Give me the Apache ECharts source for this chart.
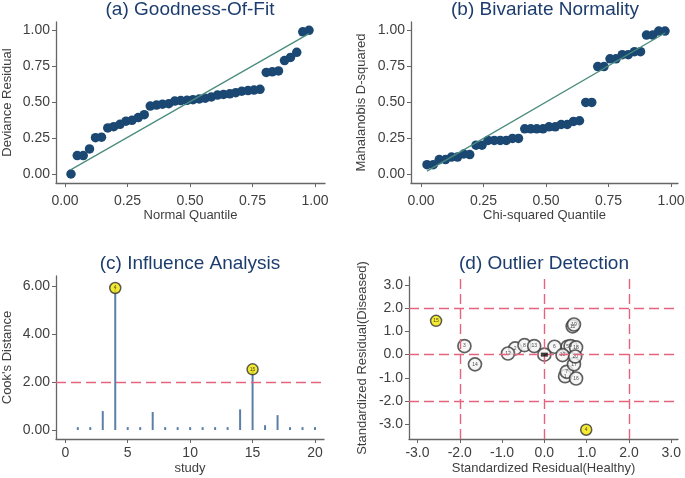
<!DOCTYPE html>
<html>
<head>
<meta charset="UTF-8">
<title>Diagnostics</title>
<script src="https://cdn.jsdelivr.net/npm/echarts@6/dist/echarts.min.js"></script>
<style>
  html, body { margin: 0; padding: 0; background: #fff; }
</style>
</head>
<body>
<div id="container" style="width:685px;height:478px;"></div>
<script type="text/javascript">

// quantile positions (same for panels a and b)
var quantiles = [0.024,0.049,0.073,0.098,0.122,0.146,0.171,0.195,0.220,0.244,
                 0.268,0.293,0.317,0.341,0.366,0.390,0.415,0.439,0.463,0.488,
                 0.512,0.537,0.561,0.585,0.610,0.634,0.659,0.683,0.707,0.732,
                 0.756,0.780,0.805,0.829,0.854,0.878,0.902,0.927,0.951,0.976];

// (a) deviance residuals
var devianceResid = [0.000,0.128,0.128,0.174,0.252,0.256,0.320,0.329,0.345,0.367,
                     0.373,0.392,0.412,0.472,0.479,0.485,0.488,0.507,0.510,0.512,
                     0.516,0.521,0.527,0.535,0.548,0.553,0.557,0.565,0.575,0.580,
                     0.583,0.588,0.706,0.710,0.716,0.788,0.810,0.845,0.988,0.998];
var fitA = [[0.024, 0.030], [0.976, 0.975]];

// (b) Mahalanobis D-squared
var mahalanobis = [0.065,0.065,0.100,0.100,0.118,0.118,0.139,0.135,0.200,0.200,
                   0.233,0.233,0.233,0.233,0.247,0.247,0.314,0.314,0.314,0.314,
                   0.328,0.328,0.344,0.344,0.365,0.370,0.497,0.497,0.746,0.746,
                   0.800,0.800,0.829,0.829,0.850,0.850,0.965,0.965,0.993,0.993];
var fitB = [[0.024, 0.020], [0.976, 0.980]];

// (c) Cook's distance per study
var studies = [1,2,3,4,5,6,7,8,9,10,11,12,13,14,15,16,17,18,19,20];
var cooks = [0.12,0.12,0.79,5.92,0.12,0.12,0.75,0.12,0.12,0.12,
             0.12,0.12,0.12,0.86,2.53,0.20,0.62,0.12,0.12,0.12];
var flagged = [4, 15];
var cooksCut = 2;

// (d) standardized residuals per study
var residHealthy  = [0.49,-0.69,-1.89,0.99,0.55,0.24,0.53,-0.47,0.62,0.43,
                     0.67,-0.86,-0.24,-1.64,-2.56,0.75,0.70,0.75,0.70,0.73];
var residDiseased = [-0.93,0.27,0.37,-3.24,0.34,0.34,-0.74,0.41,0.37,-0.02,
                     1.22,0.05,0.37,-0.42,1.46,-1.03,-0.42,0.31,1.30,-0.08];
var refPoint = [0, 0];
var outlierCuts = [-2, 0, 2];

var dom = document.getElementById("container");
var myChart = echarts.init(dom, null, { renderer: 'canvas' });

var FONT = 'Liberation Sans, Arial, sans-serif';
var TXT = '#3f3f3f';
var NAVY = '#1c3d6e';
var DOT = '#1b4873';
var FIT = '#4a8c7c';
var PINK = '#e6637f';

function mkX(idx, min, max, ticks, fmt, margin, name) {
    return {
        type: 'value', gridIndex: idx, min: min, max: max,
        splitLine: { show: false },
        axisLine: { onZero: false, lineStyle: { color: '#666', width: 1.3 } },
        axisTick: { length: 4, customValues: ticks, lineStyle: { color: '#666' } },
        axisLabel: { customValues: ticks, formatter: fmt, margin: margin,
                     color: TXT, fontSize: 14, fontFamily: FONT },
        name: name, nameLocation: 'middle', nameGap: 23,
        nameTextStyle: { color: TXT, fontSize: 13, fontFamily: FONT }
    };
}
function mkY(idx, min, max, ticks, fmt, gap, name) {
    return {
        type: 'value', gridIndex: idx, min: min, max: max,
        splitLine: { show: false },
        axisLine: { onZero: false, lineStyle: { color: '#666', width: 1.3 } },
        axisTick: { length: 4, customValues: ticks, lineStyle: { color: '#666' } },
        axisLabel: { customValues: ticks, formatter: fmt, margin: 6,
                     color: TXT, fontSize: 14, fontFamily: FONT },
        name: name, nameLocation: 'middle', nameGap: gap,
        nameTextStyle: { color: TXT, fontSize: 13, fontFamily: FONT }
    };
}
function f2(v) { return v.toFixed(2); }
function f1(v) { return v.toFixed(1); }
function f0(v) { return String(Math.round(v)); }

var unit = [0, 0.25, 0.5, 0.75, 1];

var seriesA = quantiles.map(function (q, i) { return [q, devianceResid[i]]; });
var seriesB = quantiles.map(function (q, i) { return [q, mahalanobis[i]]; });
var stems = studies.map(function (s, i) { return [s, cooks[i]]; });
var flaggedPts = flagged.map(function (s) { return { value: [s, cooks[s - 1]], name: String(s) }; });
var outPts = studies.map(function (s, i) {
    var isFlag = flagged.indexOf(s) >= 0;
    return {
        value: [residHealthy[i], residDiseased[i]], name: String(s),
        symbolSize: isFlag ? 11 : 13,
        itemStyle: isFlag ? { color: '#f2e600', borderColor: '#333', borderWidth: 1.5 }
                          : { color: '#f4f4f4', borderColor: '#3a3a3a', borderWidth: 1.7 }
    };
});

var tinyLabel = { show: true, position: 'inside', formatter: '{b}', fontSize: 5,
                  color: '#222', fontFamily: FONT };

function title(x, y, text) {
    return { type: 'text', x: x, y: y,
             style: { text: text, fill: NAVY, font: '19px ' + FONT, align: 'center', verticalAlign: 'middle' } };
}

var dash = [10, 5];

var option = {
    animation: false,
    backgroundColor: '#fff',
    graphic: [
        title(190, 10, '(a) Goodness-Of-Fit'),
        title(545, 10, '(b) Bivariate Normality'),
        title(190, 264, '(c) Influence Analysis'),
        title(544, 264, '(d) Outlier Detection')
    ],
    grid: [
        { left: 56, top: 22, width: 269, height: 161, outerBoundsMode: 'none' },
        { left: 411, top: 22, width: 267, height: 161, outerBoundsMode: 'none' },
        { left: 56, top: 276, width: 268, height: 163, outerBoundsMode: 'none' },
        { left: 409, top: 277, width: 269, height: 162, outerBoundsMode: 'none' }
    ],
    xAxis: [
        mkX(0, -0.036, 1.04, unit, f2, 11, 'Normal Quantile'),
        mkX(1, -0.04, 1.028, unit, f2, 11, 'Chi-squared Quantile'),
        mkX(2, -0.745, 20.72, [0, 5, 10, 15, 20], f0, 7, 'study'),
        mkX(3, -3.2, 3.16, [-3, -2, -1, 0, 1, 2, 3], f1, 7, 'Standardized Residual(Healthy)')
    ],
    yAxis: [
        mkY(0, -0.0625, 1.056, unit, f2, 42, 'Deviance Residual'),
        mkY(1, -0.0625, 1.056, unit, f2, 43, 'Mahalanobis D-squared'),
        mkY(2, -0.375, 6.42, [0, 2, 4, 6], f2, 42, "Cook's Distance"),
        mkY(3, -3.64, 3.35, [-3, -2, -1, 0, 1, 2, 3], f1, 40, 'Standardized Residual(Diseased)')
    ],
    series: [
        { type: 'line', xAxisIndex: 0, yAxisIndex: 0, data: fitA, symbol: 'none',
          lineStyle: { color: FIT, width: 1.3 }, z: 3 },
        { type: 'scatter', xAxisIndex: 0, yAxisIndex: 0, data: seriesA, symbolSize: 9.5,
          itemStyle: { color: DOT, opacity: 1 }, z: 2 },
        { type: 'line', xAxisIndex: 1, yAxisIndex: 1, data: fitB, symbol: 'none',
          lineStyle: { color: FIT, width: 1.3 }, z: 3 },
        { type: 'scatter', xAxisIndex: 1, yAxisIndex: 1, data: seriesB, symbolSize: 9.5,
          itemStyle: { color: DOT, opacity: 1 }, z: 2 },
        { type: 'custom', xAxisIndex: 2, yAxisIndex: 2, data: stems, z: 2,
          renderItem: function (params, api) {
              var p0 = api.coord([api.value(0), 0]);
              var p1 = api.coord([api.value(0), api.value(1)]);
              return { type: 'line', shape: { x1: p0[0], y1: p0[1], x2: p1[0], y2: p1[1] },
                       style: { stroke: '#5b7fa8', lineWidth: 2 } };
          },
          markLine: { silent: true, symbol: 'none', label: { show: false },
                      lineStyle: { color: PINK, type: dash, width: 1.4 },
                      data: [{ yAxis: cooksCut }] }
        },
        { type: 'scatter', xAxisIndex: 2, yAxisIndex: 2, data: flaggedPts, symbolSize: 11, z: 4,
          itemStyle: { color: '#f2e600', borderColor: '#333', borderWidth: 1.5 },
          label: tinyLabel },
        { type: 'line', xAxisIndex: 3, yAxisIndex: 3, data: [], z: 1,
          markLine: { silent: true, symbol: 'none', label: { show: false },
                      lineStyle: { color: PINK, type: dash, width: 1.4 },
                      data: outlierCuts.map(function (v) { return { xAxis: v }; })
                            .concat(outlierCuts.map(function (v) { return { yAxis: v }; })) }
        },
        { type: 'scatter', xAxisIndex: 3, yAxisIndex: 3, data: outPts, z: 4, label: tinyLabel },
        { type: 'scatter', xAxisIndex: 3, yAxisIndex: 3, z: 4,
          data: [{ value: refPoint }], symbolSize: 13,
          itemStyle: { color: '#f4f4f4', borderColor: '#3a3a3a', borderWidth: 1.7 } },
        { type: 'scatter', xAxisIndex: 3, yAxisIndex: 3, z: 5,
          data: [{ value: refPoint }], symbol: 'rect', symbolSize: [7, 4],
          itemStyle: { color: '#111' } }
    ]
};

if (option && typeof option === "object") {
    myChart.setOption(option, true);
}
</script>
</body>
</html>
